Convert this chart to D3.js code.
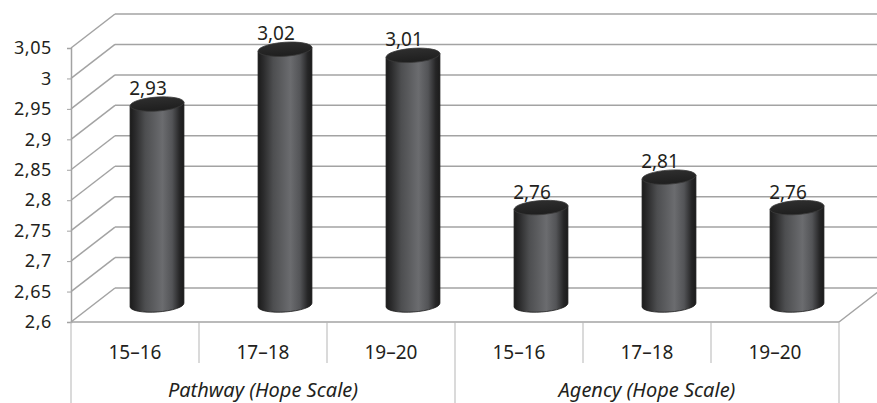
<!DOCTYPE html>
<html>
<head>
<meta charset="utf-8">
<script src="https://cdn.jsdelivr.net/npm/d3@7"></script>
<style>
  body { margin: 0; background: #fff; }
  text { font-family: "Noto Sans", sans-serif; fill: #231f20; }
</style>
</head>
<body>
<div id="chart"></div>
<script>
// data
var groups = ["Pathway (Hope Scale)", "Agency (Hope Scale)"];
var ages = ["15–16", "17–18", "19–20"];
var pathwayValues = [2.93, 3.02, 3.01];
var agencyValues = [2.76, 2.81, 2.76];
var yTicks = [2.6, 2.65, 2.7, 2.75, 2.8, 2.85, 2.9, 2.95, 3, 3.05];

var svgWidth = 877, svgHeight = 403;
var margin = { top: 48, right: 38, bottom: 81, left: 71 };
var chartWidth = svgWidth - margin.left - margin.right;   // 768
var chartHeight = svgHeight - margin.top - margin.bottom; // ~274

// 3d depth offset of the back wall
var depthX = 44, depthY = -34;

var rows = [];
groups.forEach(function(g, gi) {
  var vals = gi === 0 ? pathwayValues : agencyValues;
  ages.forEach(function(a, ai) {
    rows.push({ group: g, age: a, key: g + "|" + a, value: vals[ai] });
  });
});

var svg = d3.select("#chart").append("svg")
  .attr("width", svgWidth)
  .attr("height", svgHeight);

var defs = svg.append("defs");
var grad = defs.append("linearGradient").attr("id", "cyl")
  .attr("x1", "0%").attr("x2", "100%").attr("y1", "0%").attr("y2", "0%");
[["0%", "#1b1b1b"], ["10%", "#2b2b2c"], ["28%", "#4d4e50"], ["60%", "#6b6c6f"],
 ["78%", "#535457"], ["92%", "#262627"], ["100%", "#1b1b1b"]].forEach(function(s) {
  grad.append("stop").attr("offset", s[0]).attr("stop-color", s[1]);
});
var topGrad = defs.append("linearGradient").attr("id", "cyltop")
  .attr("x1", "0%").attr("x2", "0%").attr("y1", "0%").attr("y2", "100%");
topGrad.append("stop").attr("offset", "0%").attr("stop-color", "#2e2e2e");
topGrad.append("stop").attr("offset", "100%").attr("stop-color", "#1e1e1e");

var g = svg.append("g")
  .attr("transform", `translate(${margin.left}, ${margin.top})`);

var x = d3.scaleBand()
  .domain(rows.map(d => d.key))
  .range([0, chartWidth])
  .padding(0);

var y = d3.scaleLinear()
  .domain([2.6, 3.05])
  .range([chartHeight, 0]);

var lineColor = "#a3a3a3";

// back wall gridlines + side wall diagonals
yTicks.forEach(function(t) {
  var yy = y(t);
  g.append("line")
    .attr("x1", 0).attr("y1", yy)
    .attr("x2", depthX).attr("y2", yy + depthY)
    .attr("stroke", lineColor).attr("stroke-width", 1.5);
  g.append("line")
    .attr("x1", depthX).attr("y1", yy + depthY)
    .attr("x2", svgWidth - margin.left).attr("y2", yy + depthY)
    .attr("stroke", lineColor).attr("stroke-width", 1.5);
});

// floor right diagonal
g.append("line")
  .attr("x1", chartWidth).attr("y1", chartHeight)
  .attr("x2", chartWidth + depthX).attr("y2", chartHeight + depthY)
  .attr("stroke", lineColor).attr("stroke-width", 1.5);

// front floor edge
g.append("line")
  .attr("x1", 0).attr("y1", chartHeight)
  .attr("x2", chartWidth).attr("y2", chartHeight)
  .attr("stroke", lineColor).attr("stroke-width", 1.5);

// y axis
var leftAxis = d3.axisLeft(y)
  .tickValues(yTicks)
  .tickSize(4)
  .tickFormat(d => String(d).replace(".", ","));
var yAxis = g.append("g").call(leftAxis);
yAxis.select(".domain").attr("stroke", lineColor).attr("stroke-width", 1.5);
yAxis.selectAll(".tick line").attr("stroke", lineColor);
yAxis.selectAll(".tick text")
  .attr("x", -19)
  .style("font-size", "18px")
  .style("letter-spacing", "0.6px")
  .style("font-family", "'Noto Sans', sans-serif")
  .attr("fill", "#231f20");

// category separators
var bounds = x.domain().map(k => x(k)).concat([chartWidth]);
bounds.forEach(function(bx, i) {
  var isGroup = i % 3 === 0;
  g.append("line")
    .attr("x1", bx).attr("y1", chartHeight)
    .attr("x2", bx).attr("y2", isGroup ? svgHeight - margin.top : chartHeight + 41)
    .attr("stroke", "#b5b5b5").attr("stroke-width", 1);
});

// category labels
g.selectAll(".cat")
  .data(rows)
  .enter()
  .append("text")
  .attr("class", "cat")
  .attr("x", d => x(d.key) + x.bandwidth() / 2)
  .attr("y", chartHeight + 37)
  .attr("text-anchor", "middle")
  .style("font-size", "19px")
  .text(d => d.age);

// group labels
g.selectAll(".grp")
  .data(groups)
  .enter()
  .append("text")
  .attr("class", "grp")
  .attr("x", (d, i) => x(d + "|" + ages[0]) + x.bandwidth() * 1.5)
  .attr("y", chartHeight + 75)
  .attr("text-anchor", "middle")
  .style("font-size", "20px")
  .style("font-style", "italic")
  .text(d => d);

// cylinders
var r = 27, ry = 7, tilt = -4;
var rad = tilt * Math.PI / 180;
var cs = Math.cos(rad), sn = Math.sin(rad);

var bars = g.selectAll(".bar")
  .data(rows)
  .enter()
  .append("g")
  .attr("class", "bar");

bars.each(function(d) {
  var cx = x(d.key) + x.bandwidth() / 2 + depthX / 2;
  var topY = y(d.value) + depthY / 2;
  var botY = y(2.6) + depthY / 2;
  var dx = r * cs, dy = r * sn;
  var el = d3.select(this);
  el.append("path")
    .attr("d", `M${cx - dx},${topY - dy} L${cx - dx},${botY - dy} ` +
      `A${r},${ry} ${tilt} 0 0 ${cx + dx},${botY + dy} L${cx + dx},${topY + dy} Z`)
    .attr("fill", "url(#cyl)")
    .attr("stroke", "#1c1c1c").attr("stroke-width", 0.8);
  el.append("ellipse")
    .attr("cx", cx).attr("cy", topY)
    .attr("rx", r).attr("ry", ry)
    .attr("transform", `rotate(${tilt}, ${cx}, ${topY})`)
    .attr("fill", "url(#cyltop)")
    .attr("stroke", "#3a3a3a").attr("stroke-width", 0.8);
  el.append("text")
    .attr("x", cx - 9)
    .attr("y", topY - 9)
    .attr("text-anchor", "middle")
    .style("font-size", "19px")
    .text(String(d.value).replace(".", ","));
});
</script>
</body>
</html>
